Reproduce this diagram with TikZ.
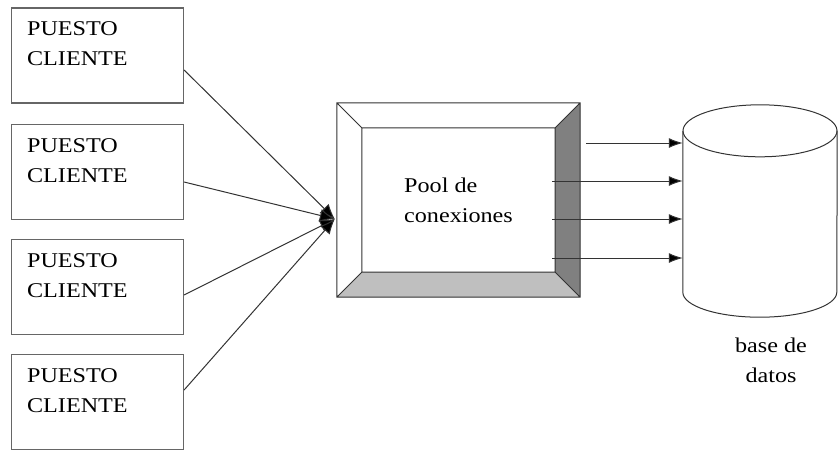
\documentclass[tikz,border=0pt]{standalone}
\usepackage{fontspec}
\setmainfont{Liberation Serif}
\usetikzlibrary{calc,arrows.meta}
\newcommand\wide[1]{\scalebox{1.15}[1]{#1}}
\tikzset{ pc/.style = { rectangle
                      , draw         = black!60
                      , line width   = 1.2pt
                      , minimum width  = 172pt
                      , minimum height = 95pt
                      },
          lbl/.style = { anchor    = north west
                       , align     = left
                       , inner sep = 0pt
                       },
           ln/.style = { line width = 1pt
                       , draw       = black!80
                       },
          arr/.style = { ln
                       , -{Latex[length=14pt, width=10pt, fill=black]}
                       },
          inarr/.style = { ln
                         , -{Latex[length=15pt, width=13pt, fill=black]}
                         }
        }

\begin{document}
\begin{tikzpicture}[x=1pt, y=-1pt, font=\fontsize{21}{30}\selectfont]
    \useasboundingbox (0,0) rectangle (838,451);
    % client boxes
    \foreach \n/\y in {1/55.5, 2/172, 3/287, 4/402} {
      \node[pc] (c\n) at (97.5,\y) {};
      \node[lbl] (t\n) at ($(c\n.north west) + (16,14)$) {\wide{PUESTO}\\\wide{CLIENTE}};
    }
    % bevelled pool box
    \node[minimum width=243pt, minimum height=194pt, inner sep=0pt, align=left]
      (pool) at (458.5,200) {\wide{Pool de}\\\wide{conexiones}};
    \coordinate (p1) at ($(pool.north west) + ( 25, 25)$);
    \coordinate (p2) at ($(pool.north east) + (-25, 25)$);
    \coordinate (p3) at ($(pool.south east) + (-25,-25)$);
    \coordinate (p4) at ($(pool.south west) + ( 25,-25)$);
    \fill[black!50] (pool.north east) -- (pool.south east) -- (p3) -- (p2) -- cycle;
    \fill[black!25] (pool.south west) -- (pool.south east) -- (p3) -- (p4) -- cycle;
    \draw[ln] (pool.north west) rectangle (pool.south east)  (p1) rectangle (p3)
              (pool.north west) -- (p1)  (pool.north east) -- (p2)
              (pool.south east) -- (p3)  (pool.south west) -- (p4);
    % clients into the pool
    \coordinate (hub) at ($(pool.west) + (-2,19)$);
    \foreach \n/\d in {1/14.5, 2/10, 3/8, 4/-12} {
      \draw[inarr] ($(c\n.east) + (0,\d)$) -- (hub);
    }
    % database
    \node[minimum width=154pt, minimum height=161pt, inner sep=0pt] (db) at (760,211.5) {};
    \draw[ln] (db.north west) -- (db.south west)
              arc[start angle=180, end angle=360, x radius=77pt, y radius=25pt]
              -- (db.north east);
    \draw[ln] (db.north) ellipse [x radius=77pt, y radius=26pt];
    \node[align=center, inner sep=0pt] (dbl) at ($(db.south) + (11,68)$)
      {\wide{base de}\\\wide{datos}};
    % pool into the database
    \coordinate (o1) at ($(pool.east) + ( 6,-57)$);
    \coordinate (o2) at ($(pool.east) + (-28,-19)$);
    \coordinate (o3) at ($(pool.east) + (-28, 19)$);
    \coordinate (o4) at ($(pool.east) + (-28, 58)$);
    \foreach \n in {1,...,4} {
      \draw[arr] (o\n) -- (o\n -| db.west);
    }
\end{tikzpicture}
\end{document}
